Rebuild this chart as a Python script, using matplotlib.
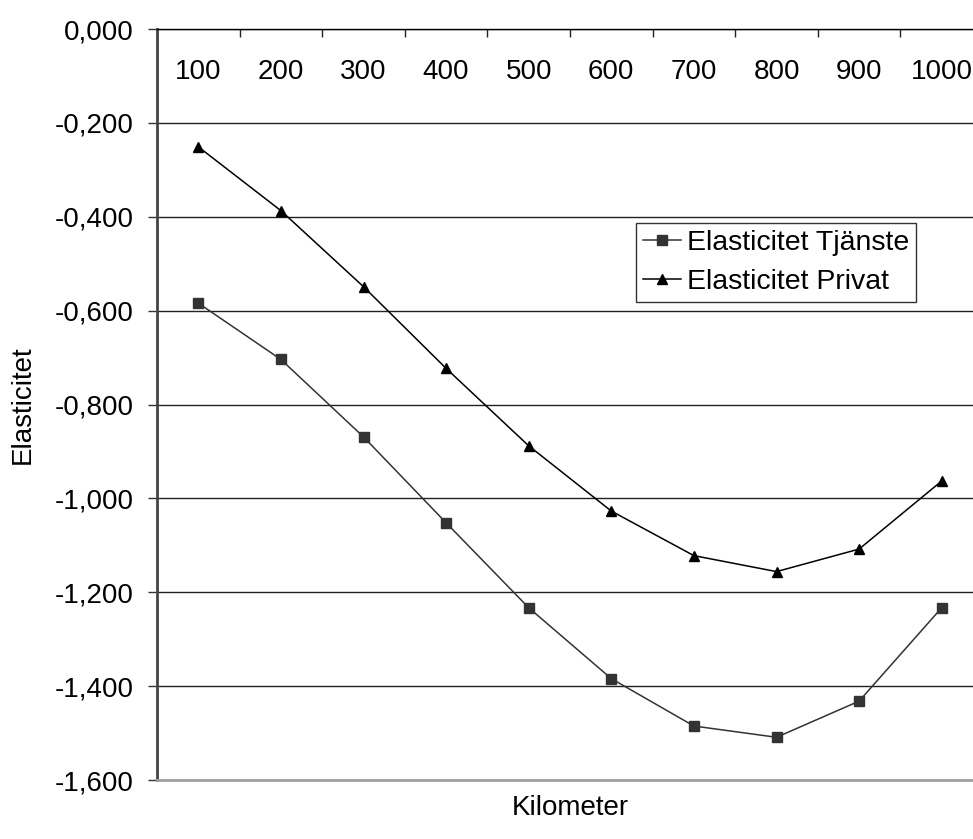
import matplotlib
matplotlib.use("Agg")
import matplotlib.pyplot as plt
from matplotlib.ticker import FuncFormatter, FixedLocator

# data
kilometer = ["100", "200", "300", "400", "500", "600", "700", "800", "900", "1000"]
tjanste = [-0.584, -0.704, -0.869, -1.052, -1.233, -1.384, -1.485, -1.509, -1.432, -1.233]
privat = [-0.251, -0.387, -0.549, -0.723, -0.888, -1.027, -1.122, -1.156, -1.108, -0.963]
y_ticks = [0.0, -0.2, -0.4, -0.6, -0.8, -1.0, -1.2, -1.4, -1.6]

plt.rcParams['font.family'] = ['Liberation Sans', 'DejaVu Sans']
plt.rcParams['font.size'] = 20

fig = plt.figure(figsize=(9.73, 8.39), dpi=100)
# plot area runs a bit past the right edge, as in the reference
ax = fig.add_axes([157 / 973, 1 - 780 / 839, 826 / 973, 751 / 839])

x = list(range(len(kilometer)))
ax.plot(x, tjanste, color='#333333', lw=1.1, marker='s', ms=7,
        markeredgecolor='#333333', markerfacecolor='#333333', label="Elasticitet Tjänste")
ax.plot(x, privat, color='black', lw=1.1, marker='^', ms=7.5,
        markeredgecolor='black', markerfacecolor='black', label="Elasticitet Privat")

ax.set_xlim(-0.5, len(kilometer) - 0.5)
ax.set_ylim(-1.6, 0.0)

# y axis
ax.yaxis.set_major_locator(FixedLocator(y_ticks))
def fmt(v, pos):
    if abs(v) < 1e-9:
        v = 0.0
    return f"{v:.3f}".replace('.', ',')
ax.yaxis.set_major_formatter(FuncFormatter(fmt))
ax.tick_params(axis='y', direction='out', length=6.5, width=1, color='#333333', pad=10)
ax.yaxis.grid(True, color='#222222', lw=1)
ax.set_axisbelow(True)

# x axis sits on top at y = 0, labels below the line
ax.xaxis.set_ticks_position('top')
ax.set_xticks([i - 0.5 for i in range(len(kilometer) + 1)])
ax.set_xticklabels([])
ax.set_xticks(x, minor=True)
ax.set_xticklabels(kilometer, minor=True)
ax.tick_params(axis='x', which='major', direction='in', length=6, width=1, color='#222222')
ax.tick_params(axis='x', which='minor', length=0, pad=-40, labeltop=True, labelbottom=False)

ax.spines['top'].set_color('black')
ax.spines['top'].set_linewidth(1)
ax.spines['left'].set_color('#444444')
ax.spines['left'].set_linewidth(2)
ax.spines['bottom'].set_color('#a0a0a0')
ax.spines['bottom'].set_linewidth(2)
ax.spines['right'].set_visible(False)

ax.xaxis.set_label_position('bottom')
ax.set_xlabel("Kilometer", labelpad=11)
ax.set_ylabel("Elasticitet", labelpad=14)

leg = ax.legend(loc='upper left', bbox_to_anchor=(0.5795, 0.742), frameon=True,
                fancybox=False, shadow=False, handlelength=1.35, handletextpad=0.2,
                borderpad=0.25, labelspacing=0.45, borderaxespad=0, fontsize=20.5)
leg.get_frame().set_edgecolor('black')
leg.get_frame().set_linewidth(1)

fig.savefig("out.png", dpi=100)
